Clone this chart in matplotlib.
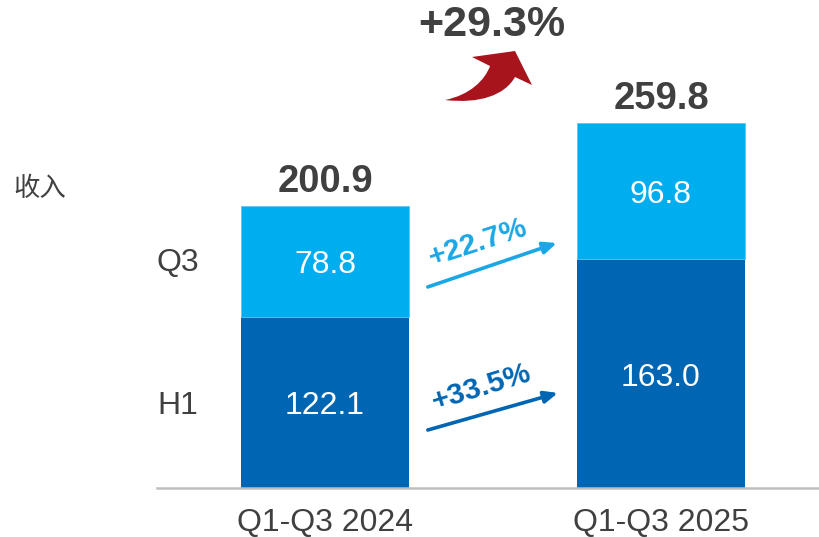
import matplotlib
matplotlib.use("Agg")
import matplotlib.pyplot as plt
from matplotlib.path import Path
from matplotlib.patches import PathPatch

plt.rcParams["font.family"] = ["Liberation Sans", "Noto Sans CJK SC", "DejaVu Sans"]

# Data
periods = ["Q1-Q3 2024", "Q1-Q3 2025"]
h1 = [122.1, 163.0]
q3 = [78.8, 96.8]
totals = [200.9, 259.8]
segment_names = ["H1", "Q3"]
q3_growth = "+22.7%"
h1_growth = "+33.5%"
total_growth = "+29.3%"
y_title = "收入"

C_H1 = "#0066B3"
C_Q3 = "#00AEEF"
C_TXT = "#404040"
C_RED = "#A8141C"

W, H = 820, 537
fig = plt.figure(figsize=(W / 100, H / 100), dpi=100)

# main axes: left edge at px 157, baseline at px 488
ax = fig.add_axes([157 / W, (H - 488) / H, (W - 157) / W, 488 / H])
ax.set_xlim(-0.5, -0.5 + (W - 157) / 336)
ax.set_ylim(0, 488 / 1.404)

x = range(len(periods))
ax.bar(x, h1, width=0.5, color=C_H1, zorder=2)
ax.bar(x, q3, width=0.5, bottom=h1, color=C_Q3, edgecolor="#5CC8F2",
       linewidth=0.6, zorder=2)

# small downward nudge so labels sit like the original
nudge = 3

for i in x:
    ax.text(i, h1[i] / 2 - nudge, f"{h1[i]:.1f}", ha="center", va="center",
            color="white", fontsize=23)
    ax.text(i, h1[i] + q3[i] / 2 - nudge, f"{q3[i]:.1f}", ha="center", va="center",
            color="white", fontsize=23)
    ax.text(i, totals[i] + 17, f"{totals[i]:.1f}", ha="center", va="center",
            color=C_TXT, fontsize=27.5, fontweight="bold")
    ax.text(i, -25, periods[i], ha="center", va="center",
            color=C_TXT, fontsize=23, clip_on=False)

# segment names at left
ax.text(0.0, h1[0] / 2 - nudge, segment_names[0], transform=ax.get_yaxis_transform(),
        ha="left", va="center", color=C_TXT, fontsize=23)
ax.text(0.0, h1[0] + q3[0] / 2 - 1.5, segment_names[1], transform=ax.get_yaxis_transform(),
        ha="left", va="center", color=C_TXT, fontsize=23)

# growth arrows between bars
ax.annotate("", xy=(0.69, 174.5), xytext=(0.306, 143.2),
            arrowprops=dict(arrowstyle="-|>,head_length=0.8,head_width=0.35",
                            color="#1AA7E6", lw=2.6, shrinkA=0, shrinkB=0))
ax.annotate("", xy=(0.693, 67.7), xytext=(0.306, 41.3),
            arrowprops=dict(arrowstyle="-|>,head_length=0.8,head_width=0.35",
                            color=C_H1, lw=2.6, shrinkA=0, shrinkB=0))
ax.text(0.455, 174.5, q3_growth, ha="center", va="center", rotation=18,
        rotation_mode="anchor", color="#1AA7E6", fontsize=21.5, fontweight="bold")
ax.text(0.466, 71.5, h1_growth, ha="center", va="center", rotation=17,
        rotation_mode="anchor", color=C_H1, fontsize=21.5, fontweight="bold")

for s in ["top", "right", "left"]:
    ax.spines[s].set_visible(False)
ax.spines["bottom"].set_color("#BFBFBF")
ax.spines["bottom"].set_linewidth(1.8)
ax.spines["bottom"].set_zorder(3)
ax.set_xticks([])
ax.set_yticks([])
ax.patch.set_alpha(0)

# overlay in pixel coordinates for the title and red curved arrow
ov = fig.add_axes([0, 0, 1, 1])
ov.set_xlim(0, W)
ov.set_ylim(H, 0)
ov.axis("off")
ov.patch.set_alpha(0)

ov.text(40, 188, y_title, ha="center", va="center", color=C_TXT, fontsize=19,
        family=["Noto Sans CJK SC", "DejaVu Sans"])
ov.text(492, 25, total_growth, ha="center", va="center", color=C_TXT,
        fontsize=31, fontweight="bold")

verts = [
    (445, 100),
    (470, 95), (485, 80), (490, 66),
    (472, 57),
    (515, 51),
    (532, 85),
    (515, 77),
    (505, 95), (480, 104), (445, 100),
    (445, 100),
]
codes = [
    Path.MOVETO,
    Path.CURVE4, Path.CURVE4, Path.CURVE4,
    Path.LINETO,
    Path.LINETO,
    Path.LINETO,
    Path.LINETO,
    Path.CURVE4, Path.CURVE4, Path.CURVE4,
    Path.CLOSEPOLY,
]
ov.add_patch(PathPatch(Path(verts, codes), facecolor=C_RED, edgecolor="none"))

fig.savefig("out.png", dpi=100)
